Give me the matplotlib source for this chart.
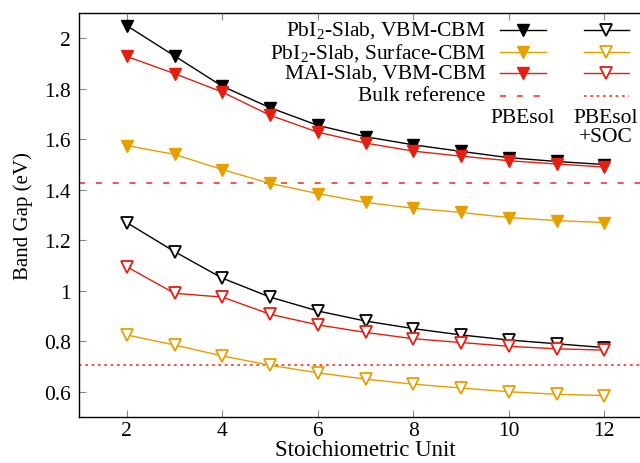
import numpy as np
import matplotlib
matplotlib.use("Agg")
import matplotlib.pyplot as plt
from matplotlib.ticker import FuncFormatter

plt.rcParams["font.family"] = ["Liberation Serif", "DejaVu Serif"]
plt.rcParams["mathtext.fontset"] = "custom"
plt.rcParams["mathtext.rm"] = "Liberation Serif"
plt.rcParams["mathtext.it"] = "Liberation Serif:italic"

# stoichiometric units
units = [2, 3, 4, 5, 6, 7, 8, 9, 10, 11, 12]

# PBEsol (filled markers)
pbi2_vbm = [2.05, 1.93, 1.81, 1.725, 1.655, 1.61, 1.578, 1.552, 1.527, 1.512, 1.50]
pbi2_surf = [1.575, 1.54, 1.48, 1.425, 1.385, 1.35, 1.327, 1.31, 1.29, 1.278, 1.27]
mai_vbm = [1.928, 1.86, 1.787, 1.695, 1.628, 1.585, 1.553, 1.533, 1.515, 1.502, 1.49]

# PBEsol + SOC (open markers)
pbi2_vbm_soc = [1.27, 1.155, 1.05, 0.975, 0.92, 0.88, 0.85, 0.825, 0.805, 0.79, 0.775]
pbi2_surf_soc = [0.825, 0.785, 0.742, 0.705, 0.675, 0.65, 0.63, 0.615, 0.60, 0.59, 0.585]
mai_vbm_soc = [1.095, 0.99, 0.975, 0.907, 0.865, 0.835, 0.81, 0.795, 0.78, 0.77, 0.765]

# bulk references
bulk_pbesol = 1.425
bulk_soc = 0.705

labels = [r"PbI$_2$-Slab, VBM-CBM", r"PbI$_2$-Slab, Surface-CBM", "MAI-Slab, VBM-CBM"]
colors = ["black", "#e69f00", "#e51e10"]
ref_color = "#f03a28"

fig = plt.figure(figsize=(6.4, 4.64), dpi=100)
# axes runs past the right edge of the figure (cropped like the original)
ax = fig.add_axes([79 / 640, 46 / 464, 573 / 640, 404 / 464])

fs = 15.5
lw = 1.0
ms = 9
dash = (3.6, 6.5)
dot = (1.6, 2.2)

ax.axhline(bulk_pbesol, color=ref_color, lw=1.2, dashes=dash)
ax.axhline(bulk_soc, color=ref_color, lw=1.2, dashes=dot)

filled = [pbi2_vbm, pbi2_surf, mai_vbm]
opened = [pbi2_vbm_soc, pbi2_surf_soc, mai_vbm_soc]
for vals, c in zip(filled, colors):
    ax.plot(units, vals, color=c, lw=lw, marker="v", ms=ms, mfc=c, mec=c)
for vals, c in zip(opened, colors):
    ax.plot(units, vals, color=c, lw=lw, marker="v", ms=ms, mfc="white",
            mec=c, mew=1.3)

ax.set_xlim(1, 13)
ax.set_ylim(0.5, 2.1)
ax.set_xticks([2, 4, 6, 8, 10, 12])
ax.set_yticks([0.6, 0.8, 1.0, 1.2, 1.4, 1.6, 1.8, 2.0])
ax.yaxis.set_major_formatter(FuncFormatter(lambda v, p: f"{v:g}"))
ax.tick_params(direction="in", length=5, color="#888888", labelsize=fs,
               top=True, right=True)
ax.tick_params(axis="x", pad=3)
ax.tick_params(axis="y", pad=6)
for s in ax.spines.values():
    s.set_linewidth(1.0)

ax.set_xlabel("Stoichiometric Unit", fontsize=16.5, labelpad=-1)
ax.set_ylabel("Band Gap (eV)", fontsize=15, labelpad=8)

# gnuplot-style key: labels, PBEsol column, PBEsol+SOC column
tr = ax.transAxes
rows = [0.958, 0.903, 0.851, 0.795]
for lab, c, y in zip(labels, colors, rows):
    ax.text(0.710, y, lab, transform=tr, ha="right", va="center", fontsize=fs)
    ax.plot([0.735, 0.815], [y, y], transform=tr, color=c, lw=lw)
    ax.plot([0.775], [y], transform=tr, marker="v", ms=ms, color=c, mfc=c, mec=c)
    ax.plot([0.881, 0.960], [y, y], transform=tr, color=c, lw=lw)
    ax.plot([0.920], [y], transform=tr, marker="v", ms=ms, mfc="white", mec=c, mew=1.3)
ax.text(0.710, rows[3], "Bulk reference", transform=tr, ha="right", va="center",
        fontsize=fs)
ax.plot([0.735, 0.815], [rows[3]] * 2, transform=tr, color=ref_color, lw=1.2,
        dashes=dash)
ax.plot([0.881, 0.960], [rows[3]] * 2, transform=tr, color=ref_color, lw=1.2,
        dashes=dot)
ax.text(0.775, 0.742, "PBEsol", transform=tr, ha="center", va="center", fontsize=fs)
ax.text(0.920, 0.717, "PBEsol\n+SOC", transform=tr, ha="center", va="center",
        fontsize=fs, linespacing=1.0)

fig.savefig("out.png", dpi=100)
